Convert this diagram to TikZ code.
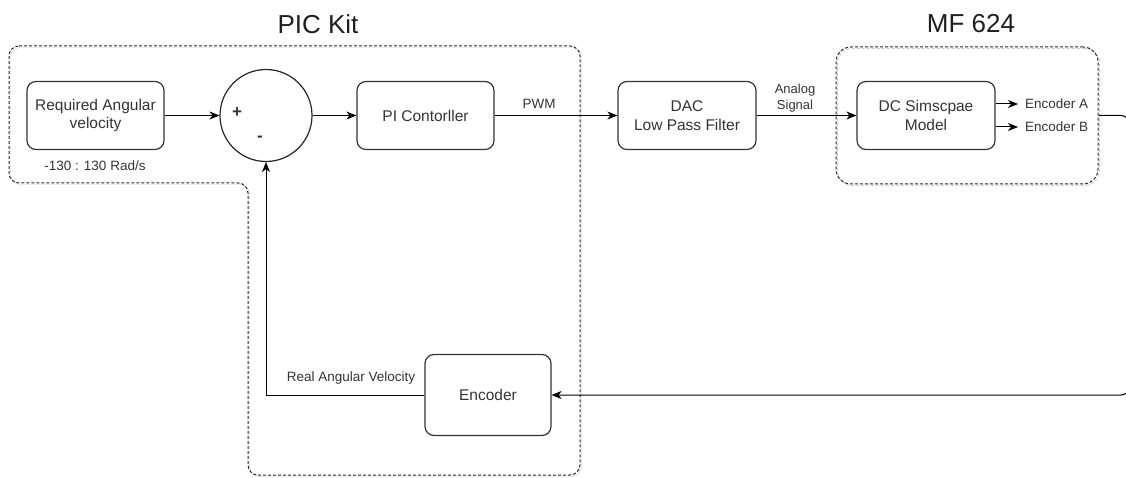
\documentclass[tikz,border=0pt]{standalone}
\usepackage{fontspec}
\setmainfont{Liberation Sans}
\usepackage{tikz}
\usetikzlibrary{arrows.meta}
\tikzset{
  bdblock/.style={draw=black!80, line width=1.2pt, rounded corners=9pt, minimum width=137pt, minimum height=68pt, align=center, text=black!80, font=\fontsize{15.5}{18.5}\selectfont},
  bdsum/.style={draw=black!85, line width=1.2pt, circle, minimum size=92pt, inner sep=0pt},
  bdgroup/.style={draw=black!85, line width=1pt, dash pattern=on 3pt off 2pt, rounded corners=10pt, preaction={draw=black!20, transform canvas={shift={(1.5pt,-1.5pt)}}}},
  bdarrow/.style={draw=black, line width=1pt, -{Stealth[length=10pt,width=8pt,inset=3pt]}},
  bdlabel/.style={text=black!80, font=\fontsize{13.5}{16}\selectfont, align=center, inner sep=1pt},
  bdtitle/.style={text=black!88, font=\fontsize{26}{30}\selectfont, inner sep=0pt},
}
\begin{document}
\begin{tikzpicture}[x=1pt,y=-1pt]
\useasboundingbox (0,0) rectangle (1126,478);
\draw[bdgroup] (9,46) -- (580,46) -- (580,475) -- (248,475) -- (248,183) -- (9,183) -- cycle;
\node[bdgroup, minimum width=262pt, minimum height=137pt, rounded corners=15pt] (mf) at (967,115.5) {};
\node[bdtitle] (pictitle) at (318,24) {PIC Kit};
\node[bdtitle] (mftitle) at (971,24) {MF 624};
\node[bdblock] (req) at (95.5,115.5) {Required Angular\\velocity};
\node[bdsum] (sum) at (266,115.5) {};
\node[bdblock] (pi) at (425.5,115.5) {PI Contorller};
\node[bdblock, minimum width=138pt] (dac) at (687,115.5) {DAC\\Low Pass Filter};
\node[bdblock, minimum width=138pt] (dc) at (926,115.5) {DC Simscpae\\Model};
\node[bdblock, minimum width=126pt, minimum height=81pt] (enc) at (488,395) {Encoder};
\node[bdlabel, font=\fontsize{17}{18}\selectfont\bfseries] (plus) at (237,113) {+};
\node[bdlabel, font=\fontsize{17}{18}\selectfont\bfseries] (minus) at (260,139) {-};
\node[bdlabel] (rng) at (95,166) {-130 : 130 Rad/s};
\node[bdlabel] (pwm) at (539,104) {PWM};
\node[bdlabel, font=\fontsize{13}{16}\selectfont] (anl) at (795,98) {Analog\\Signal};
\node[bdlabel] (real) at (351,378) {Real Angular Velocity};
\node[bdlabel, anchor=west, inner xsep=7pt] (enca) at (1018,104) {Encoder A};
\node[bdlabel, anchor=west, inner xsep=7pt] (encb) at (1018,127) {Encoder B};
\coordinate (rt) at (1129,115.5);
\coordinate (rb) at (1129,395);
\draw[bdarrow] (req) -- (sum);
\draw[bdarrow] (sum) -- (pi);
\draw[bdarrow] (pi) -- (dac);
\draw[bdarrow] (dac) -- (dc);
\draw[bdarrow] (dc.east |- enca.west) -- (enca.west);
\draw[bdarrow] (dc.east |- encb.west) -- (encb.west);
\draw[bdarrow, rounded corners=8pt] (mf.east) -- (rt) -- (rb) -- (enc.east);
\draw[bdarrow] (enc.west) -| (sum.south);
\end{tikzpicture}
\end{document}
